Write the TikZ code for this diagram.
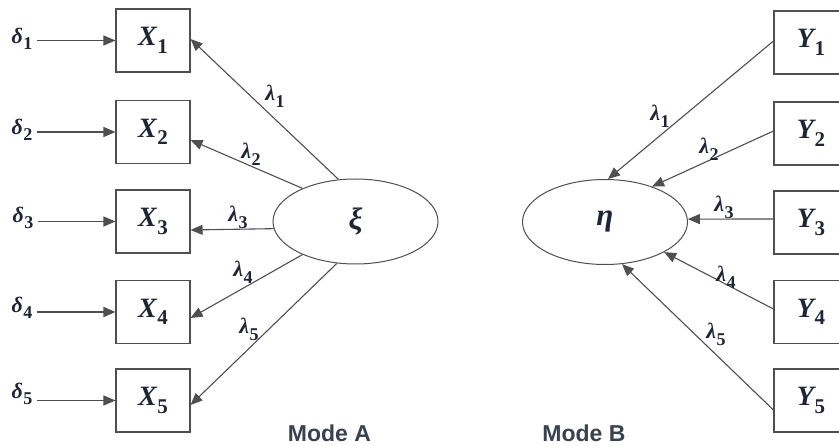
\documentclass[tikz,border=0pt]{standalone}
\usepackage{fontspec}
\newfontfamily\modefont{Liberation Sans}
\newfontfamily\symfnt{Liberation Serif}
\newcommand\sv[5]{{\symfnt\fontsize{#3}{#3}\selectfont\bfseries\itshape #1}\kern0.5pt\raisebox{-#5}{\symfnt\fontsize{#4}{#4}\selectfont\bfseries #2}}
\newcommand\xv[2]{\sv{#1}{#2}{28}{21}{7.5pt}}
\newcommand\dv[1]{\sv{δ}{#1}{22}{18}{6pt}}
\newcommand\lv[1]{\sv{λ}{#1}{22}{18}{7pt}}
\usetikzlibrary{arrows.meta,shapes.geometric}
\definecolor{ink}{HTML}{1E2535}
\definecolor{edgec}{HTML}{4F4F4F}
\definecolor{modec}{HTML}{3A4150}
\tikzset{
 obs/.style={draw=edgec,line width=1.1pt,minimum width=74pt,minimum height=63pt,inner sep=0pt,text=ink},
 lat/.style={ellipse,draw=edgec,line width=1pt,minimum width=165pt,minimum height=85pt,inner sep=0pt,font=\symfnt\fontsize{31}{33}\selectfont\bfseries\itshape,text=ink},
 arr/.style={draw=edgec,line width=1.1pt,-{Triangle[length=12pt,width=10pt]}},
 lam/.style={inner sep=0pt,text=ink},
 del/.style={inner sep=0pt,text=ink},
 modelab/.style={inner sep=0pt,font=\modefont\bfseries\fontsize{23}{27}\selectfont,text=modec}
}
\begin{document}
\begin{tikzpicture}[x=1pt,y=-1pt]
\useasboundingbox (0,0) rectangle (839,446);
\fill[white] (0,0) rectangle (839,446);
\clip (0,0) rectangle (839,446);
% observed X
\node[obs] (X1) at (153,40.5) {\xv{X}{1}};
\node[obs] (X2) at (153,132) {\xv{X}{2}};
\node[obs] (X3) at (153,221.5) {\xv{X}{3}};
\node[obs] (X4) at (153,312) {\xv{X}{4}};
\node[obs] (X5) at (153,400.5) {\xv{X}{5}};
% observed Y
\node[obs] (Y1) at (811,42.5) {\xv{Y}{1}};
\node[obs] (Y2) at (811,133.5) {\xv{Y}{2}};
\node[obs] (Y3) at (811,222.5) {\xv{Y}{3}};
\node[obs] (Y4) at (811,312) {\xv{Y}{4}};
\node[obs] (Y5) at (811,400.5) {\xv{Y}{5}};
% latent
\node[lat] (xi) at (355.5,221.5) {ξ};
\node[lat] (eta) at (605,222) {η};
% deltas
\node[del] (d1) at (22,39) {\dv{1}};
\node[del] (d2) at (22,130) {\dv{2}};
\node[del] (d3) at (23,218) {\dv{3}};
\node[del] (d4) at (22,308) {\dv{4}};
\node[del] (d5) at (22,394) {\dv{5}};
\foreach \i in {1,...,5}{
  \draw[arr] ([xshift=4pt]d\i.east |- X\i.west) -- (X\i.west);
}
% Mode A arrows
\draw[arr] (xi.112) -- ([yshift=1.5pt]X1.east);
\draw[arr] (xi.148.7) -- ([yshift=-8pt]X2.east);
\draw[arr] (xi.185.9) -- ([yshift=-8.5pt]X3.east);
\draw[arr] (xi.212) -- ([yshift=-6pt]X4.east);
\draw[arr] (xi.246.5) -- ([yshift=-4.5pt]X5.east);
% Mode B arrows
\draw[arr] ([yshift=1.5pt]Y1.west) -- (eta.86);
\draw[arr] ([yshift=2.5pt]Y2.west) -- (eta.37.6);
\draw[arr] ([yshift=3.5pt]Y3.west) -- (eta.2);
\draw[arr] ([yshift=3pt]Y4.west) -- (eta.-27.8);
\draw[arr] ([yshift=-9.5pt]Y5.west) -- (eta.-68.4);
% lambda labels
\node[lam] (la1) at (275,96) {\lv{1}};
\node[lam] (la2) at (251,154) {\lv{2}};
\node[lam] (la3) at (238,217) {\lv{3}};
\node[lam] (la4) at (243,272) {\lv{4}};
\node[lam] (la5) at (249,329) {\lv{5}};
\node[lam] (lb1) at (660,116) {\lv{1}};
\node[lam] (lb2) at (709,149) {\lv{2}};
\node[lam] (lb3) at (724,207) {\lv{3}};
\node[lam] (lb4) at (726,277) {\lv{4}};
\node[lam] (lb5) at (716,334) {\lv{5}};
% mode labels
\node[modelab] (mA) at (329.5,433) {Mode A};
\node[modelab] (mB) at (584,433) {Mode B};
\end{tikzpicture}
\end{document}
